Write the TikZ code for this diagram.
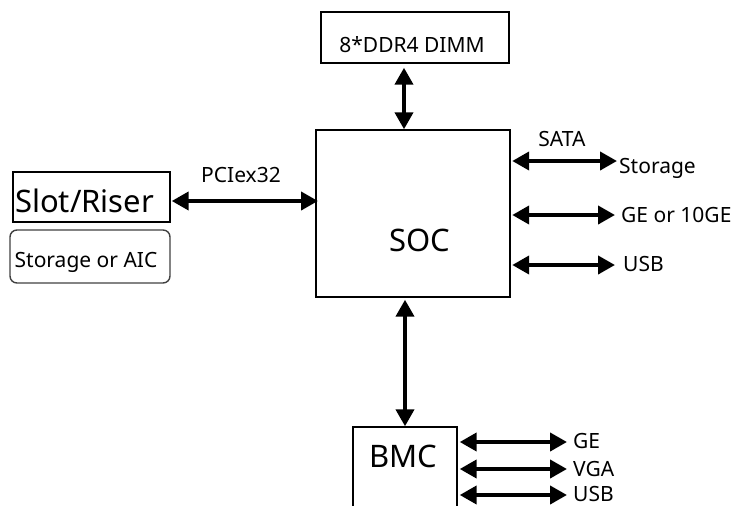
\documentclass[tikz,border=0pt]{standalone}
\usepackage{fontspec}
\setmainfont{Noto Sans}
\usetikzlibrary{arrows.meta,positioning}
\tikzset{
  block/.style={draw,line width=1.4pt,inner sep=0pt},
  biarrow/.style={line width=4pt,{Triangle[length=17pt,width=18pt]}-{Triangle[length=17pt,width=18pt]}},
  small/.style={font=\fontsize{21}{25}\selectfont,inner sep=0pt},
  large/.style={font=\fontsize{31}{36}\selectfont,inner sep=0pt},
}

\begin{document}
\begin{tikzpicture}[x=1pt,y=-1pt]
  \useasboundingbox (0,0) rectangle (734,506);
  \clip (0,0) rectangle (734,506);
  % blocks
  \node[block,minimum width=188pt,minimum height=51pt] (dimm) at (415,37.5) {};
  \node[block,minimum width=194pt,minimum height=167pt] (soc) at (413,213.5) {};
  \node[block,minimum width=157pt,minimum height=50pt] (slot) at (91.5,197) {};
  \node[block,draw=black!75,rounded corners=7pt,minimum width=160pt,minimum height=53pt] (aic) at (90,256.5) {};
  \node[block,minimum width=104pt,minimum height=100pt] (bmc) at (405,477) {};
  % texts
  \node[small,anchor=base] (dimm-txt) at (412,52) {8*DDR4 DIMM};
  \node[large] (soc-txt) at (420,240) {SOC};
  \node[large] (bmc-txt) at (403,456) {BMC};
  \node[large,anchor=base west] (slot-txt) at (15,212) {Slot/Riser};
  \node[small,anchor=base] (aic-txt) at (86,267) {Storage or AIC};
  \node[small,anchor=base] (pcie-txt) at (241,182) {PCIex32};
  \node[small,anchor=base] (sata-txt) at (562,146) {SATA};
  \node[small,anchor=base west] (storage) at (619,173) {Storage};
  \node[small,anchor=base west] (ge10) at (621,222) {GE or 10GE};
  \node[small,anchor=base west] (usb-soc) at (623,271) {USB};
  \node[small,anchor=base west] (ge) at (573,448) {GE};
  \node[small,anchor=base west] (vga) at (573,476) {VGA};
  \node[small,anchor=base west] (usb-bmc) at (573,501) {USB};
  % arrow ends
  \coordinate (mem-bus) at (404,0);
  \coordinate (pcie-end) at (318,201);
  \coordinate (sata-end) at (617,161);
  \coordinate (ge10-end) at (615,215);
  \coordinate (usb-soc-end) at (615,265);
  \coordinate (ge-end) at (567,442);
  \coordinate (vga-end) at (567,469);
  \coordinate (usb-bmc-end) at (567,495);
  % buses
  \draw[biarrow,shorten <=4pt] (dimm.south -| mem-bus) -- (soc.north -| mem-bus);
  \draw[biarrow,shorten <=2pt] (soc.south -| bmc.north) -- (bmc.north);
  \draw[biarrow,shorten <=1pt] (slot.east |- pcie-end) -- (pcie-end);
  \draw[biarrow,shorten <=1.5pt] (soc.east |- sata-end) -- (sata-end);
  \draw[biarrow,shorten <=1.5pt] (soc.east |- ge10-end) -- (ge10-end);
  \draw[biarrow,shorten <=1.5pt] (soc.east |- usb-soc-end) -- (usb-soc-end);
  \draw[biarrow,shorten <=2pt] (bmc.east |- ge-end) -- (ge-end);
  \draw[biarrow,shorten <=2pt] (bmc.east |- vga-end) -- (vga-end);
  \draw[biarrow,shorten <=2pt] (bmc.east |- usb-bmc-end) -- (usb-bmc-end);
\end{tikzpicture}
\end{document}
